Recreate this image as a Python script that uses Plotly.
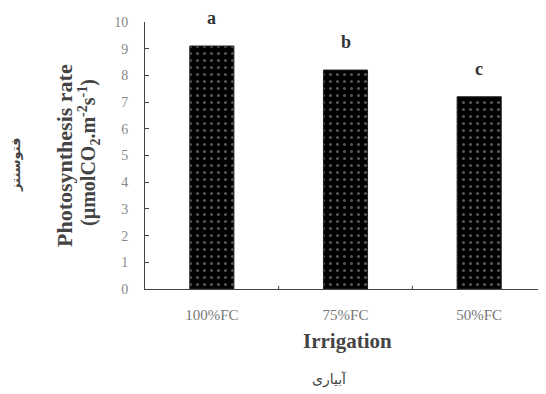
import plotly.graph_objects as go

categories = ["100%FC", "75%FC", "50%FC"]
values = [9.1, 8.2, 7.2]
letters = ["a", "b", "c"]
y_ticks = list(range(0, 11))
y_max = 10

fig = go.Figure()
fig.add_trace(go.Bar(
    x=categories, y=values, width=0.33,
    marker=dict(color="black", line=dict(color="#222", width=1),
                pattern=dict(shape=".", fgcolor="#aaaaaa", bgcolor="black", size=7, solidity=0.15)),
    showlegend=False,
))

for c, v, l in zip(categories, values, letters):
    fig.add_annotation(x=c, y=(v + 1.05) / y_max, text="<b>" + l + "</b>", showarrow=False,
                       yref="paper", xref="x",
                       font=dict(family="Liberation Serif", size=18, color="#333"),
                       yanchor="middle")

serif = "Liberation Serif"
fig.add_annotation(xref="paper", yref="paper", x=(64 - 145) / 401, y=(289 - 156) / 267,
                   text="<b>Photosynthesis rate</b>", textangle=-90, showarrow=False,
                   font=dict(family=serif, size=22, color="#444"), xanchor="center", yanchor="middle")
fig.add_annotation(xref="paper", yref="paper", x=(89 - 145) / 401, y=(289 - 153) / 267,
                   text="<b>(µmolCO<sub>2</sub>.m<sup>-2</sup>s<sup>-1</sup>)</b>", textangle=-90, showarrow=False,
                   font=dict(family=serif, size=20, color="#444"), xanchor="center", yanchor="middle")
fig.add_annotation(xref="paper", yref="paper", x=(15 - 145) / 401, y=(289 - 165) / 267,
                   text="<b>فتوسنتز</b>", textangle=-90, showarrow=False,
                   font=dict(family="DejaVu Sans", size=13, color="#444"), xanchor="center", yanchor="middle")
fig.add_annotation(xref="paper", yref="paper", x=(347 - 145) / 401, y=(289 - 341) / 267,
                   text="<b>Irrigation</b>", showarrow=False,
                   font=dict(family=serif, size=21, color="#444"), xanchor="center", yanchor="middle")
fig.add_annotation(xref="paper", yref="paper", x=(329 - 145) / 401, y=(289 - 379) / 267,
                   text="آبیاری", showarrow=False,
                   font=dict(family="DejaVu Sans", size=14, color="#444"), xanchor="center", yanchor="middle")

fig.update_layout(
    width=538, height=386,
    margin=dict(l=137, r=0, t=14, b=105),
    plot_bgcolor="white", paper_bgcolor="white",
)
fig.update_xaxes(range=[-0.5, 2.5], showline=True, linecolor="#444", linewidth=1,
                 ticks="", showgrid=False, ticklabelstandoff=12,
                 tickfont=dict(family=serif, size=15, color="#777"))
fig.update_yaxes(range=[0, y_max], tickvals=y_ticks, showline=True, linecolor="#444", linewidth=1,
                 ticks="inside", ticklen=4, tickcolor="#444", showgrid=False, zeroline=False,
                 tickfont=dict(family=serif, size=14, color="#888"), ticklabelstandoff=13)

# inside ticks on x axis between categories
for xb in [0.5, 1.5]:
    fig.add_shape(type="line", xref="x", yref="y", x0=xb, x1=xb, y0=0, y1=0.12,
                  line=dict(color="#444", width=1))

fig.write_html("out.html")
